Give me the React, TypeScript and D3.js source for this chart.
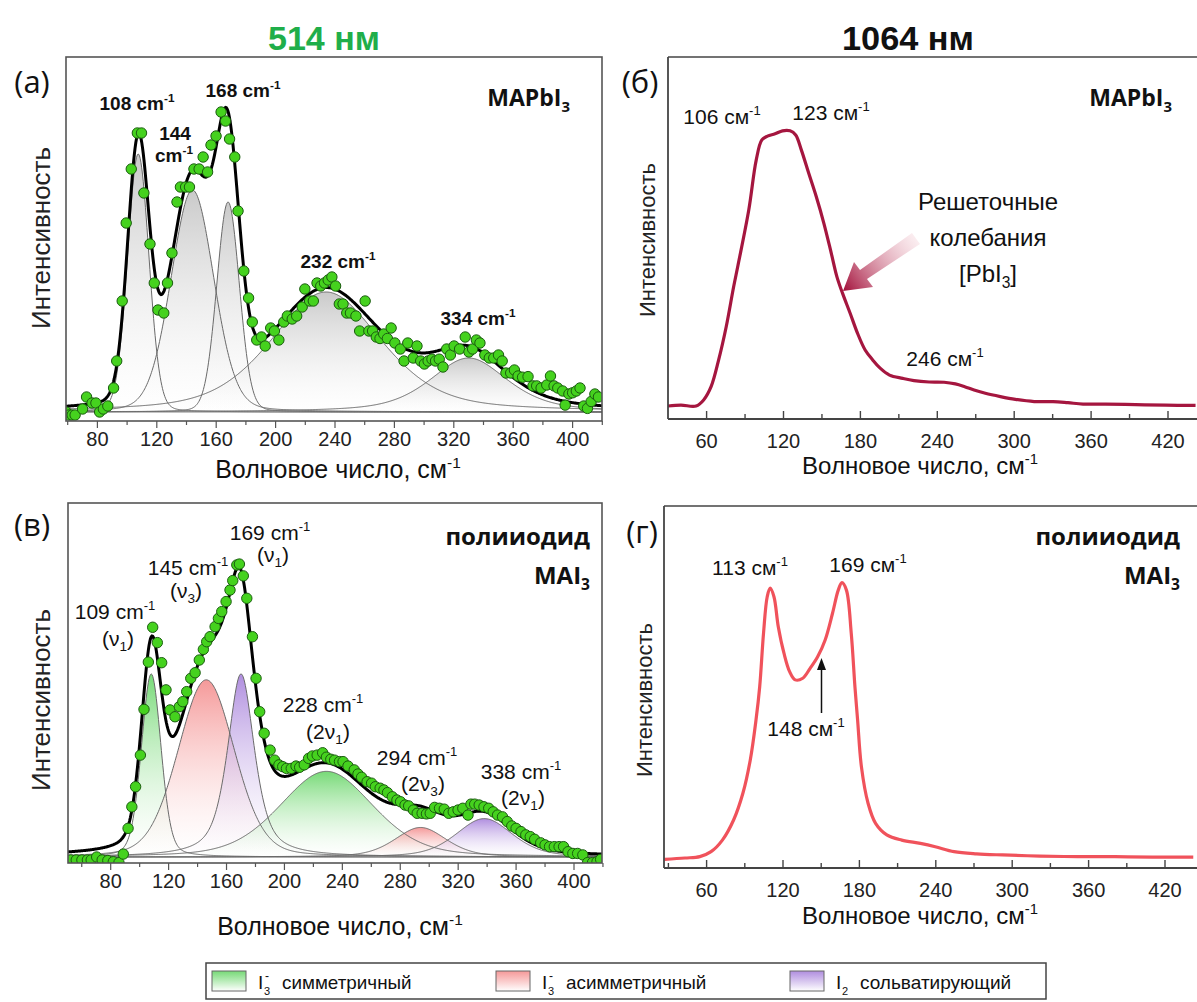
import React from 'react';
import * as d3 from 'd3';

// ---------------- data ----------------
const ticksFit = [80, 120, 160, 200, 240, 280, 320, 360, 400];
const ticksRaw = [60, 120, 180, 240, 300, 360, 420];

// (a) 514 nm MAPbI3 measured points [wavenumber, intensity]
const scatterA: [number, number][] = [
  [59, 0], [61, -1], [63, -1], [65, -1], [70, 1], [72.7, 5], [76.4, 3], [79, 3], [81.5, 0], [84, 1], [87, 2],
  [90.9, 8], [93, 17], [96.7, 37], [99.4, 63], [102.8, 81], [106.9, 93], [109.7, 93], [111.3, 73], [115.4, 56],
  [118.3, 43], [120.8, 34], [124.7, 33], [127.2, 43], [130.2, 53], [133.6, 70], [135.9, 75], [139.4, 75],
  [142, 75], [145, 81], [148.5, 81], [151.2, 85], [154.2, 80], [156.5, 89], [159.9, 92], [163.3, 100],
  [166.3, 97], [169, 91], [172.5, 85], [174.7, 67], [178.6, 47], [181.8, 38], [184.3, 30], [187.3, 24],
  [190.5, 25], [193, 22], [196.7, 28], [199.2, 27], [202.2, 24], [205.5, 30], [207.9, 32], [211.2, 31],
  [214.2, 32], [217.9, 35], [219.7, 41], [222.9, 37], [225.4, 37], [227.9, 43], [230.4, 42], [232.9, 43],
  [235.4, 44], [237.9, 45], [240.4, 42], [242.9, 36], [245.4, 36], [247.9, 33], [250.4, 33], [254.1, 32],
  [256.6, 27], [260.3, 37], [262.8, 27], [265.3, 27], [267.8, 25], [270.3, 24.5], [272.8, 26], [275.3, 24.5],
  [277.8, 28], [280.3, 23], [284, 21], [286.5, 17], [289, 23], [292.7, 18], [295.2, 22], [297.7, 17],
  [300.2, 16], [302.7, 17], [305.3, 17.6], [307.7, 17], [310.2, 17.6], [312.7, 15], [315.2, 21], [317.7, 19],
  [320.2, 22], [323.9, 21], [327.7, 25], [330.2, 20], [332.7, 21], [335.2, 24], [337.6, 23], [340.9, 19],
  [343.9, 18], [346.9, 18], [350.1, 19], [352.6, 17], [355.1, 13], [358.3, 13], [360.8, 14], [363.3, 12],
  [366.3, 11.6], [370, 11.8], [373.3, 8.7], [375.8, 8.7], [378.8, 8], [382.6, 9], [385.1, 12], [387.5, 8.7],
  [390, 8], [393.3, 7], [395, 2.3], [397.5, 6], [400, 6.4], [402.5, 7], [405, 8], [407.5, 2], [410, 1.2],
  [412.5, 3.5], [415, 6], [417.4, 5],
];

// (a) fit components: [centre, amplitude, FWHM, Lorentz fraction]
const compsA: [number, number, number, number][] = [
  [107.5, 86, 17, 0.1],
  [144, 74, 34, 0.15],
  [168, 70, 18, 0.1],
  [234, 40, 88, 0.45],
  [330, 18, 62, 0.55],
];

// (в) 514 nm polyiodide MAI3 measured points
const scatterV: [number, number][] = [
  [52.4, -1], [56.2, -1], [60.1, -1], [63.9, -1], [66.5, -1], [70.3, 0], [74.1, -1], [78, -1.2], [81.8, -1.6],
  [85.7, -1.9], [88.7, 1], [92, 9.7], [94.6, 17], [97.2, 23.8], [100.5, 34.5], [103, 50], [106, 66], [109, 77.8],
  [112.2, 72.6], [115.2, 65.8], [118.2, 56.6], [121, 49.8], [124.4, 47.5], [127.4, 50.9], [129.8, 52.6],
  [132.5, 56], [135.3, 60.5], [138.3, 62.4], [141.2, 66.7], [144, 70.3], [146.3, 72.9], [148.6, 74.6],
  [152.1, 78], [154.4, 80.8], [156.7, 83.1], [159.7, 86.5], [162.4, 90.4], [164.3, 93.6], [167.1, 98.9],
  [168.9, 99.2], [171.6, 95.2], [174, 87.6], [177.9, 74.6], [180.4, 60.5], [182.9, 49.2], [186, 41.9],
  [190.1, 36.2], [193.2, 32.8], [196.2, 31.2], [198.8, 30.6], [201.4, 30], [204.7, 30], [208, 30.8],
  [210.5, 30.4], [213.7, 31.2], [216.7, 33.4], [219.3, 34.2], [222.6, 34.5], [226.4, 35.3], [229, 33.8],
  [232, 33.1], [234.6, 32.8], [238, 32.3], [240.5, 32.3], [243.9, 30.8], [248.2, 29.5], [250.8, 28.1],
  [253.3, 27], [257.1, 25.5], [260.2, 25], [262.8, 23.8], [266.1, 23.3], [268.7, 22.7], [271.2, 21.8],
  [274.5, 20.4], [277.7, 19.3], [280.2, 18.7], [283.3, 17.6], [285.8, 17.3], [289.1, 15.9], [291.7, 14.8],
  [295.1, 14.8], [298.1, 14.6], [300.7, 14.8], [303.7, 16.8], [307.1, 16.5], [310.4, 16.2], [313.5, 14.8],
  [316.6, 15.3], [319.9, 15.9], [323.2, 16.5], [326.8, 14.2], [328.8, 17.9], [331.4, 17.9], [334.5, 17.6],
  [337.8, 17], [341.1, 16.5], [344.2, 15.3], [347.2, 14.2], [350.6, 13.6], [353.9, 12], [357, 10.5],
  [360, 9.7], [363.4, 8.6], [366.7, 7.5], [369.8, 6.9], [372.8, 6], [377, 4.8], [380, 4.1], [383.1, 3.5],
  [386.4, 3.5], [389.7, 3.5], [392.8, 3.5], [395.9, 1.8], [399.2, 1.2], [402.5, 1.2], [406.1, 0.7],
  [409.4, -1.9], [412.8, -1.9], [415.9, -1.6], [418.4, -0.8],
];

// (в) fit components: [centre, amplitude, FWHM, Lorentz fraction]
const compsV: [number, number, number, number][] = [
  [108, 62, 16, 0.25],
  [146, 60, 46, 0.2],
  [170, 62, 22, 0.65],
  [229, 29, 76, 0.3],
  [294, 10, 42, 0.4],
  [338, 13, 46, 0.4],
];
const compsVKind = ['sym', 'asym', 'solv', 'sym', 'asym', 'solv'];

// (б) 1064 nm MAPbI3 spectrum
const spectrumB: [number, number][] = [
  [29.8, 0], [40, 0.3], [51.8, 0], [57.7, 2.2], [63.5, 7], [69.4, 16.7], [75.3, 28.7], [81.1, 43.2],
  [84.5, 51], [92.9, 71], [98.7, 89.1], [103.1, 96.4], [107.5, 97.8], [113.4, 98.6], [119.2, 99.7],
  [125.1, 99.7], [129.5, 98.2], [133.9, 92.8], [139.7, 84.3], [145.6, 75.8], [151.5, 66.2], [157.3, 55.3],
  [161.7, 46.8], [166.1, 40.8], [172, 33.6], [177.8, 26.3], [183.7, 20.3], [189.6, 16.7], [195.4, 13.7],
  [202.7, 11.2], [213, 10], [221.8, 9.2], [233.6, 8.7], [245.3, 8.6], [254.1, 8], [261.4, 7], [268.7, 5.8],
  [277.5, 4.6], [289.2, 3.4], [300.9, 2.4], [315.6, 1.6], [330.3, 1.6], [341.9, 1.2], [353.7, 0.7],
  [371.3, 0.7], [394.7, 0.5], [418.1, 0.3], [441.5, 0.2],
];

// (г) 1064 nm polyiodide MAI3 spectrum
const spectrumG: [number, number][] = [
  [26.9, -0.5], [43, 0], [54.7, 0.5], [63.5, 2.3], [72.4, 6.5], [81.2, 13.8], [88.5, 23.5], [94.3, 35.6],
  [98.8, 50.1], [101.7, 62.2], [104.7, 81.6], [107.6, 94.9], [109.9, 98], [112.9, 94.9], [116.3, 84],
  [120.8, 74.3], [125.2, 67.7], [129.6, 64.7], [135.5, 65.3], [141.3, 68.9], [147.2, 73.1], [153.1, 79.2],
  [158.9, 88.9], [163.4, 97.3], [166.3, 100], [169.8, 97.3], [173.6, 81.6], [176.5, 62.2], [178.6, 50.1],
  [181.6, 33.1], [186.8, 19.9], [192.7, 12.6], [201.5, 8.4], [213.2, 6.5], [227.9, 5.3], [239.6, 4.1],
  [254.3, 2.3], [272, 1.5], [292.5, 1.1], [321.8, 0.7], [351.2, 0.5], [380.6, 0.5], [409.9, 0.3], [442.2, 0.3],
];

// ---------------- helpers ----------------
const ARIAL = "'Liberation Sans', Arial, sans-serif";
const CALIBRI = "'Open Sans', 'Noto Sans', sans-serif";

const pv = (x: number, c: [number, number, number, number]) => {
  const [cx, a, w, eta] = c;
  const d = (x - cx) / w;
  return a * ((1 - eta) * Math.exp(-4 * Math.LN2 * d * d) + eta / (1 + 4 * d * d));
};

type Frame = { l: number; t: number; r: number; b: number };

const kindColor: Record<string, string> = {
  sym: '#5fd35f',
  asym: '#f38787',
  solv: '#a27ad9',
  gray: '#b8b8b8',
};

function Sup({ x, y, text, sup, size, weight = 'normal', anchor = 'middle', family = ARIAL }: any) {
  return (
    <text x={x} y={y} fontSize={size} fontWeight={weight} textAnchor={anchor} fontFamily={family} fill="#111">
      {text}
      <tspan dy={-size * 0.42} fontSize={size * 0.62}>{sup}</tspan>
    </text>
  );
}

function Sub({ x, y, pre, sub, post = '', size, weight = 'normal', anchor = 'middle', family = ARIAL }: any) {
  return (
    <text x={x} y={y} fontSize={size} fontWeight={weight} textAnchor={anchor} fontFamily={family} fill="#111">
      {pre}
      <tspan dy={size * 0.25} fontSize={size * 0.65}>{sub}</tspan>
      {post ? <tspan dy={-size * 0.25}>{post}</tspan> : null}
    </text>
  );
}

function FitPanel({ id, frame, x, y, comps, kinds, pts }: any) {
  const f: Frame = frame;
  const grid = d3.range(x.invert(f.l) - 2, x.invert(f.r) + 2, 0.5);
  const area = (c: any) =>
    d3.area<number>().x((d) => x(d)).y0(y(0)).y1((d) => y(pv(d, c)))(grid) as string;
  const line = (c: any) => d3.line<number>().x((d) => x(d)).y((d) => y(pv(d, c)))(grid) as string;
  const fit = d3
    .line<number>()
    .x((d) => x(d))
    .y((d) => y(comps.reduce((s: number, c: any) => s + pv(d, c), 0)))(grid) as string;
  return (
    <g>
      <defs>
        <clipPath id={`clip-${id}`}>
          <rect x={f.l} y={f.t} width={f.r - f.l} height={f.b - f.t} />
        </clipPath>
        {Object.keys(kindColor).map((k) => (
          <linearGradient key={k} id={`grad-${id}-${k}`} x1="0" y1="0" x2="0" y2="1">
            <stop offset="0%" stopColor={kindColor[k]} stopOpacity={k === 'gray' ? 0.75 : 0.85} />
            <stop offset="100%" stopColor="#ffffff" stopOpacity={0.25} />
          </linearGradient>
        ))}
      </defs>
      <g clipPath={`url(#clip-${id})`}>
        {comps.map((c: any, i: number) => (
          <path key={`a${i}`} d={area(c)} fill={`url(#grad-${id}-${kinds[i]})`} />
        ))}
        <line x1={f.l} x2={f.r} y1={y(0)} y2={y(0)} stroke="#888" strokeWidth={1} />
        {comps.map((c: any, i: number) => (
          <path key={`l${i}`} d={line(c)} fill="none" stroke="#6a6a6a" strokeWidth={1} />
        ))}
        <path d={fit} fill="none" stroke="#000" strokeWidth={3} />
        {pts.map((p: [number, number], i: number) => (
          <circle key={i} cx={x(p[0])} cy={y(p[1])} r={5.2} fill="#45d21e" stroke="#1b5d10" strokeWidth={1} />
        ))}
      </g>
      <rect x={f.l} y={f.t} width={f.r - f.l} height={f.b - f.t} fill="none" stroke="#555" strokeWidth={1.6} />
      {d3.range(60, 421, 20).map((t) => (
        <line key={t} x1={x(t)} x2={x(t)} y1={f.b} y2={f.b + (ticksFit.includes(t) ? 7 : 4)} stroke="#555" strokeWidth={1.2} />
      ))}
      {ticksFit.map((t) => (
        <text key={t} x={x(t)} y={f.b + 25} fontSize={20} textAnchor="middle" fontFamily={ARIAL} fill="#222">
          {t}
        </text>
      ))}
    </g>
  );
}

function RawPanel({ frame, x, y, data, color }: any) {
  const f: Frame = frame;
  const path = d3
    .line<[number, number]>()
    .x((d) => x(d[0]))
    .y((d) => y(d[1]))
    .curve(d3.curveCatmullRom)(data) as string;
  return (
    <g>
      <defs>
        <clipPath id={`clip-raw-${f.t}`}>
          <rect x={f.l} y={f.t} width={f.r - f.l} height={f.b - f.t} />
        </clipPath>
      </defs>
      <path d={path} fill="none" stroke={color} strokeWidth={3.2} clipPath={`url(#clip-raw-${f.t})`} />
      <line x1={f.l} x2={f.r} y1={f.t} y2={f.t} stroke="#444" strokeWidth={1.5} />
      <line x1={f.l} x2={f.l} y1={f.t} y2={f.b} stroke="#444" strokeWidth={1.8} />
      <line x1={f.l} x2={f.r} y1={f.b} y2={f.b} stroke="#444" strokeWidth={1.8} />
      {d3.range(30, 450, 30).map((t) =>
        x(t) > f.l + 2 && x(t) < f.r ? (
          <line key={t} x1={x(t)} x2={x(t)} y1={f.b} y2={f.b - (ticksRaw.includes(t) ? 8 : 5)} stroke="#444" strokeWidth={1.4} />
        ) : null
      )}
      {ticksRaw.map((t) => (
        <text key={t} x={x(t)} y={f.b + 29} fontSize={20} textAnchor="middle" fontFamily={ARIAL} fill="#222">
          {t}
        </text>
      ))}
    </g>
  );
}

function YLabel({ x, y, size }: any) {
  return (
    <text transform={`translate(${x},${y}) rotate(-90)`} fontSize={size} textAnchor="middle" fontFamily={ARIAL} fill="#222">
      Интенсивность
    </text>
  );
}

function XTitle({ x, y, size }: any) {
  return <Sup x={x} y={y} text="Волновое число, см" sup="-1" size={size} />;
}

function LegendItem({ x, sub, sup, label, id }: any) {
  return (
    <g>
      <rect x={x} y={971} width={34} height={20} fill={`url(#leg-${id})`} stroke="#666" strokeWidth={1} />
      <text x={x + 46} y={989} fontSize={19} fontFamily={ARIAL} fill="#111">I</text>
      <text x={x + 52} y={995} fontSize={11} fontFamily={ARIAL} fill="#111">{sub}</text>
      {sup ? <text x={x + 53} y={980} fontSize={12} fontFamily={ARIAL} fill="#111">{sup}</text> : null}
      <text x={x + 70} y={989} fontSize={19} fontFamily={ARIAL} fill="#111" textLength={label.length * 10.8} lengthAdjust="spacingAndGlyphs">
        {label}
      </text>
    </g>
  );
}

export default function App() {
  const fA: Frame = { l: 66, t: 57, r: 602, b: 421 };
  const fV: Frame = { l: 68, t: 503, r: 602, b: 863 };
  const fB: Frame = { l: 668, t: 57, r: 1197, b: 419 };
  const fG: Frame = { l: 664, t: 506, r: 1197, b: 868 };

  const xA = d3.scaleLinear().domain([80, 400]).range([97.4, 572.6]);
  const yA = d3.scaleLinear().domain([0, 100]).range([412, 112]);
  const xV = d3.scaleLinear().domain([80, 400]).range([110.7, 574]);
  const yV = d3.scaleLinear().domain([0, 100]).range([857, 561.7]);
  const xB = d3.scaleLinear().domain([60, 420]).range([706.6, 1168]);
  const yB = d3.scaleLinear().domain([0, 100]).range([406, 130]);
  const xG = d3.scaleLinear().domain([60, 420]).range([706.6, 1165]);
  const yG = d3.scaleLinear().domain([0, 100]).range([858, 582.7]);

  const legendKinds = [
    { id: 'sym', color: kindColor.sym, x: 212, sub: '3', sup: '-', label: 'симметричный' },
    { id: 'asym', color: kindColor.asym, x: 496, sub: '3', sup: '-', label: 'асимметричный' },
    { id: 'solv', color: kindColor.solv, x: 790, sub: '2', sup: '', label: 'сольватирующий' },
  ];

  return (
    <svg width={1197} height={1002} style={{ position: 'absolute', left: 0, top: 0, background: '#fff' }}>
      <rect width={1197} height={1002} fill="#fff" />
      <defs>
        {legendKinds.map((k) => (
          <linearGradient key={k.id} id={`leg-${k.id}`} x1="0" y1="0" x2="0" y2="1">
            <stop offset="0%" stopColor={k.color} stopOpacity={0.85} />
            <stop offset="100%" stopColor="#fff" stopOpacity={0.9} />
          </linearGradient>
        ))}
        <linearGradient id="arrowGrad" gradientUnits="userSpaceOnUse" x1={918} y1={238} x2={845} y2={290}>
          <stop offset="0%" stopColor="#f3c9d2" stopOpacity={0.3} />
          <stop offset="100%" stopColor="#a5163f" />
        </linearGradient>
      </defs>

      {/* titles */}
      <text x={324} y={50} fontSize={33} fontWeight="bold" textAnchor="middle" fontFamily={ARIAL} fill="#1fae4a" textLength={112} lengthAdjust="spacingAndGlyphs">
        514 нм
      </text>
      <text x={908} y={50} fontSize={33} fontWeight="bold" textAnchor="middle" fontFamily={ARIAL} fill="#111" textLength={132} lengthAdjust="spacingAndGlyphs">
        1064 нм
      </text>

      {/* ---------- (a) ---------- */}
      <FitPanel id="A" frame={fA} x={xA} y={yA} comps={compsA} kinds={compsA.map(() => 'gray')} pts={scatterA} />
      <text x={32} y={93} fontSize={31} fontFamily={CALIBRI} textAnchor="middle" fill="#111">(a)</text>
      <YLabel x={50} y={238} size={26} />
      <XTitle x={338} y={478} size={25} />
      <Sup x={137} y={110} text="108 cm" sup="-1" size={19} weight="bold" />
      <text x={175} y={140} fontSize={19} fontWeight="bold" textAnchor="middle" fontFamily={ARIAL} fill="#111">144</text>
      <Sup x={174} y={162} text="cm" sup="-1" size={19} weight="bold" />
      <Sup x={243} y={97} text="168 cm" sup="-1" size={19} weight="bold" />
      <Sup x={338} y={268} text="232 cm" sup="-1" size={19} weight="bold" />
      <Sup x={478} y={325} text="334 cm" sup="-1" size={19} weight="bold" />
      <Sub x={570} y={106} pre="MAPbI" sub="3" size={23} weight="bold" anchor="end" family={CALIBRI} />

      {/* ---------- (б) ---------- */}
      <RawPanel frame={fB} x={xB} y={yB} data={spectrumB} color="#a5163f" />
      <text x={640} y={93} fontSize={31} fontFamily={CALIBRI} textAnchor="middle" fill="#111">(б)</text>
      <YLabel x={655} y={240} size={22} />
      <XTitle x={920} y={474} size={24} />
      <Sup x={722} y={124} text="106 см" sup="-1" size={21} />
      <Sup x={831} y={120} text="123 см" sup="-1" size={21} />
      <Sup x={945} y={366} text="246 см" sup="-1" size={21} />
      <Sub x={1172} y={106} pre="MAPbI" sub="3" size={23} weight="bold" anchor="end" family={CALIBRI} />
      <text x={988} y={210} fontSize={24} textAnchor="middle" fontFamily={ARIAL} fill="#111">Решеточные</text>
      <text x={988} y={246} fontSize={24} textAnchor="middle" fontFamily={ARIAL} fill="#111">колебания</text>
      <Sub x={988} y={282} pre="[PbI" sub="3" post="]" size={24} />
      <polygon
        points="920,244 912,233 860,270 854,262 843,291 873,287 867,279"
        fill="url(#arrowGrad)"
      />

      {/* ---------- (в) ---------- */}
      <FitPanel id="V" frame={fV} x={xV} y={yV} comps={compsV} kinds={compsVKind} pts={scatterV} />
      <text x={32} y={536} fontSize={31} fontFamily={CALIBRI} textAnchor="middle" fill="#111">(в)</text>
      <YLabel x={50} y={700} size={26} />
      <XTitle x={340} y={935} size={25} />
      <Sup x={115} y={619} text="109 cm" sup="-1" size={21} />
      <Sub x={118} y={646} pre="(ν" sub="1" post=")" size={21} />
      <Sup x={188} y={575} text="145 cm" sup="-1" size={21} />
      <Sub x={186} y={598} pre="(ν" sub="3" post=")" size={21} />
      <Sup x={270} y={540} text="169 cm" sup="-1" size={21} />
      <Sub x={273} y={562} pre="(ν" sub="1" post=")" size={21} />
      <Sup x={323} y={712} text="228 cm" sup="-1" size={21} />
      <Sub x={328} y={739} pre="(2ν" sub="1" post=")" size={21} />
      <Sup x={417} y={765} text="294 cm" sup="-1" size={21} />
      <Sub x={423} y={791} pre="(2ν" sub="3" post=")" size={21} />
      <Sup x={521} y={779} text="338 cm" sup="-1" size={21} />
      <Sub x={523} y={805} pre="(2ν" sub="1" post=")" size={21} />
      <text x={590} y={545} fontSize={24} fontWeight="bold" textAnchor="end" fontFamily={CALIBRI} fill="#111">полииодид</text>
      <Sub x={590} y={584} pre="MAI" sub="3" size={24} weight="bold" anchor="end" family={CALIBRI} />

      {/* ---------- (г) ---------- */}
      <RawPanel frame={fG} x={xG} y={yG} data={spectrumG} color="#f0525b" />
      <text x={642} y={543} fontSize={31} fontFamily={CALIBRI} textAnchor="middle" fill="#111">(г)</text>
      <YLabel x={652} y={700} size={22} />
      <XTitle x={920} y={924} size={24} />
      <Sup x={750} y={575} text="113 см" sup="-1" size={21} />
      <Sup x={868} y={572} text="169 см" sup="-1" size={21} />
      <Sup x={806} y={736} text="148 см" sup="-1" size={21} />
      <line x1={821.5} x2={821.5} y1={713} y2={668} stroke="#111" strokeWidth={1.5} />
      <polygon points="821.5,658 817,670 826,670" fill="#111" />
      <text x={1180} y={545} fontSize={24} fontWeight="bold" textAnchor="end" fontFamily={CALIBRI} fill="#111">полииодид</text>
      <Sub x={1180} y={584} pre="MAI" sub="3" size={24} weight="bold" anchor="end" family={CALIBRI} />

      {/* ---------- legend ---------- */}
      <rect x={206} y={963} width={840} height={36} fill="#fff" stroke="#444" strokeWidth={1.5} />
      {legendKinds.map((k) => (
        <LegendItem key={k.id} id={k.id} x={k.x} sub={k.sub} sup={k.sup} label={k.label} />
      ))}
    </svg>
  );
}
